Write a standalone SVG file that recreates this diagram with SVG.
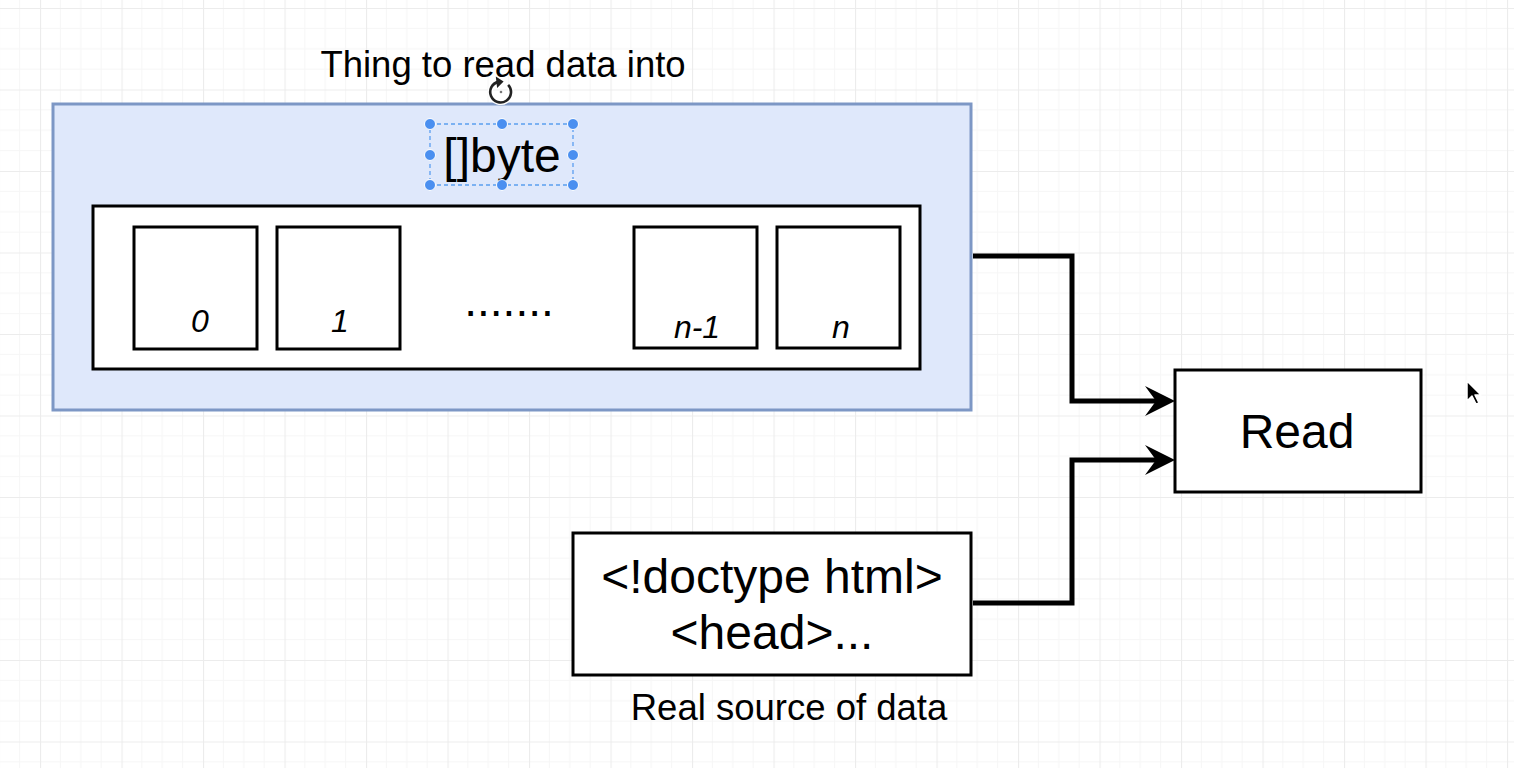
<svg xmlns="http://www.w3.org/2000/svg" width="1514" height="768" viewBox="0 0 1514 768">
  <defs>
    <pattern id="grid" x="40" y="8" width="81.5" height="81.5" patternUnits="userSpaceOnUse">
      <path d="M20.375,0 V81.5 M40.75,0 V81.5 M61.125,0 V81.5 M0,20.375 H81.5 M0,40.75 H81.5 M0,61.125 H81.5" stroke="#f6f6f6" stroke-width="1" fill="none"/>
      <path d="M0.5,0 V81.5 M0,0.5 H81.5" stroke="#ececec" stroke-width="1.2" fill="none"/>
    </pattern>
    <marker id="arrow" viewBox="0 0 32 32" markerWidth="32" markerHeight="32" refX="17" refY="16" orient="auto" markerUnits="userSpaceOnUse">
      <path d="M2,1 L32,16 L2,31 L13,16 Z" fill="#000"/>
    </marker>
    <style>
      .t { font-family: "Liberation Sans", Arial, sans-serif; fill: #000; }
      .box { fill: #fff; stroke: #000; stroke-width: 3; }
      .cell { fill: #fff; stroke: #000; stroke-width: 3; }
      .idx { font-family: "Liberation Sans", Arial, sans-serif; font-style: italic; font-size: 32px; text-anchor: middle; }
      .edge { fill: none; stroke: #000; stroke-width: 5; stroke-linejoin: miter; }
      .handle { fill: #4a8ff0; stroke: #fff; stroke-width: 1; }
    </style>
  </defs>
  <rect width="1514" height="768" fill="#ffffff"/>
  <rect width="1514" height="768" fill="url(#grid)"/>

  <text class="t" x="503" y="77" font-size="36.5" text-anchor="middle">Thing to read data into</text>

  <g id="byte-slice">
    <rect x="53" y="104" width="918" height="306" fill="#dfe8fb" stroke="#7d97c5" stroke-width="3"/>
    <text class="t" x="502" y="172" font-size="48" text-anchor="middle">[]byte</text>
    <rect class="box" x="93" y="206" width="827" height="163"/>
  </g>

  <g id="cell-0">
    <rect class="cell" x="134" y="227" width="123" height="122"/>
    <text class="idx" x="200" y="332" font-size="33">0</text>
  </g>
  <g id="cell-1">
    <rect class="cell" x="277" y="227" width="123" height="122"/>
    <text class="idx" x="340" y="332" font-size="33">1</text>
  </g>
  <g id="ellipsis">
    <text class="t" x="509" y="316" font-size="46" text-anchor="middle">.......</text>
  </g>
  <g id="cell-n-1">
    <rect class="cell" x="634" y="227" width="123" height="121"/>
    <text class="idx" x="697" y="338">n-1</text>
  </g>
  <g id="cell-n">
    <rect class="cell" x="777" y="227" width="123" height="121"/>
    <text class="idx" x="841" y="338">n</text>
  </g>

  <g id="selection">
    <rect x="430" y="124" width="143" height="61" fill="none" stroke="#5b9ef0" stroke-width="1.3" stroke-dasharray="4 3"/>
    <circle class="handle" cx="430" cy="124" r="5.5"/>
    <circle class="handle" cx="502" cy="124" r="5.5"/>
    <circle class="handle" cx="573" cy="124" r="5.5"/>
    <circle class="handle" cx="430" cy="155" r="5.5"/>
    <circle class="handle" cx="573" cy="155" r="5.5"/>
    <circle class="handle" cx="430" cy="185" r="5.5"/>
    <circle class="handle" cx="502" cy="185" r="5.5"/>
    <circle class="handle" cx="573" cy="185" r="5.5"/>
    <g transform="translate(501,92) scale(1.3)">
      <path d="M5.5,-5.5 A8,8 0 1 1 -2,-7.8" fill="none" stroke="#fff" stroke-width="4"/>
      <path d="M5.5,-5.5 A8,8 0 1 1 -2,-7.8" fill="none" stroke="#222" stroke-width="2"/>
      <path d="M-4,-12 L2,-8 L-3,-3 Z" fill="#222"/>
      <circle cx="0" cy="0" r="1" fill="#777"/>
    </g>
  </g>

  <g id="read">
    <rect class="box" x="1175" y="370" width="246" height="122"/>
    <text class="t" x="1297" y="448" font-size="48" text-anchor="middle">Read</text>
  </g>

  <g id="source">
    <rect class="box" x="573" y="533" width="398" height="142"/>
    <text class="t" x="772" y="593" font-size="48" text-anchor="middle">&lt;!doctype html&gt;</text>
    <text class="t" x="772" y="649" font-size="48" text-anchor="middle">&lt;head&gt;...</text>
    <text class="t" x="789" y="720" font-size="36.5" text-anchor="middle">Real source of data</text>
  </g>

  <g id="connectors">
    <path class="edge" d="M973,256 H1072 V401 H1160" marker-end="url(#arrow)"/>
    <path class="edge" d="M973,603 H1072 V460 H1160" marker-end="url(#arrow)"/>
  </g>

  <g id="cursor" transform="translate(1467,381)">
    <path d="M0,0 L0,20 L5,15 L9,23 L12,22 L8,14 L14,14 Z" fill="#000" stroke="#fff" stroke-width="1.5" stroke-linejoin="round"/>
  </g>
</svg>
